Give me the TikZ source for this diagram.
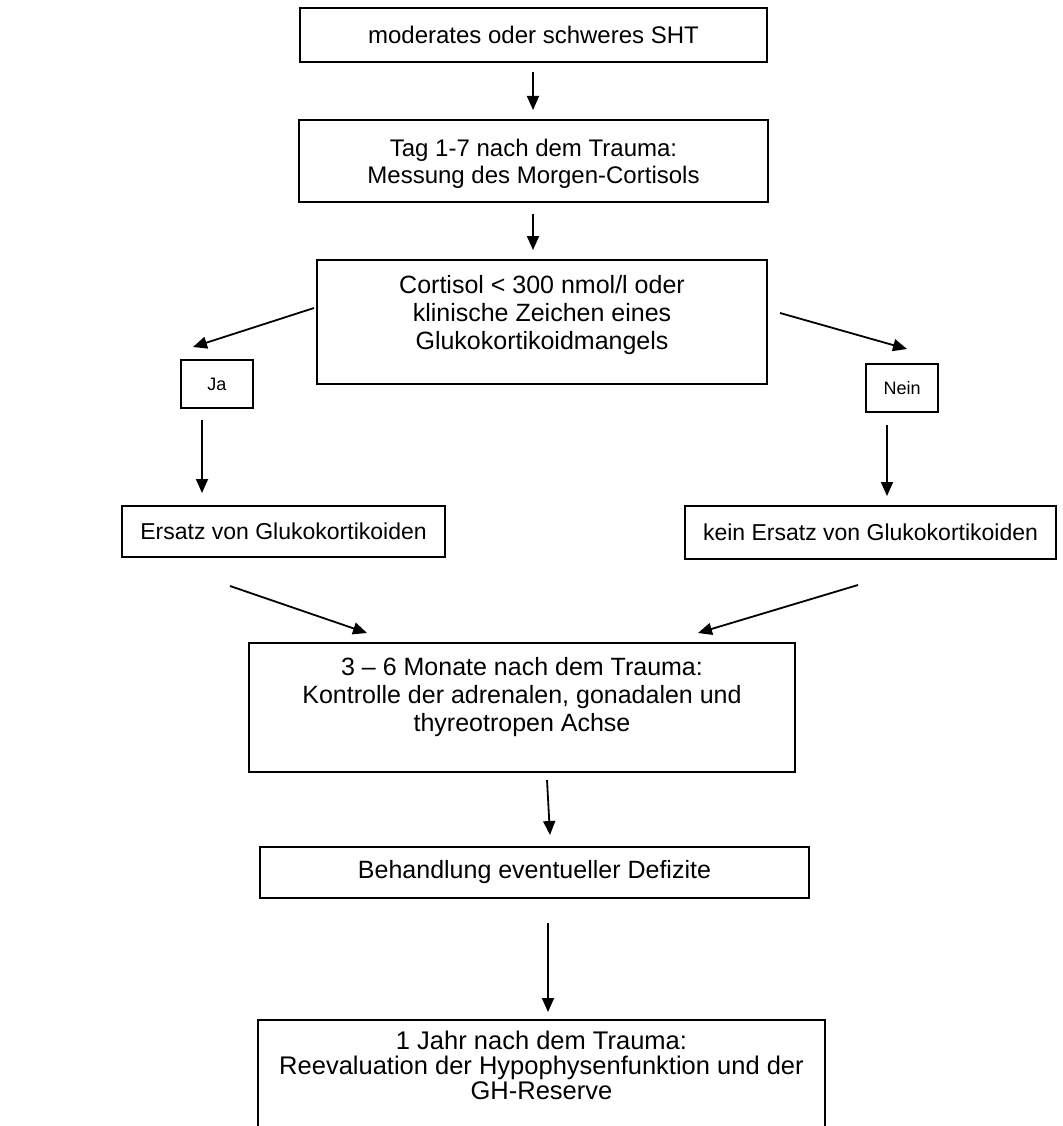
\documentclass[tikz,border=0pt]{standalone}
\usepackage{fontspec}
\setmainfont{Liberation Sans}
\usetikzlibrary{arrows.meta}
\begin{document}
\begin{tikzpicture}[x=1pt,y=-1pt,
  box/.style={draw=black,line width=1.8pt,rectangle,inner sep=0pt,outer sep=0pt,align=center},
  fa/.style={font=\fontsize{24}{27}\selectfont},
  fb/.style={font=\fontsize{25}{28}\selectfont},
  fc/.style={font=\fontsize{23}{27}\selectfont},
  fs/.style={font=\fontsize{18}{22}\selectfont},
  arr/.style={line width=1.8pt,-{Triangle[length=14pt,width=12pt]}}]
\useasboundingbox (0,0) rectangle (1062,1126);
\fill[white] (0,0) rectangle (1062,1126);

\node[box,fa,minimum width=467pt,minimum height=54pt] (b1) at (533.5,35) {moderates oder schweres SHT};
\node[box,fa,minimum width=469pt,minimum height=82pt,text depth=0pt] (b2) at (533.5,161) {Tag 1-7 nach dem Trauma:\\Messung des Morgen-Cortisols};
\node[box,fb,minimum width=450pt,minimum height=124pt,text depth=20pt] (b3) at (542,322) {Cortisol < 300 nmol/l oder\\klinische Zeichen eines\\Glukokortikoidmangels};
\node[box,fs,minimum width=72pt,minimum height=48pt] (ja) at (217,384) {Ja};
\node[box,fs,minimum width=72pt,minimum height=48pt] (nein) at (902,388) {Nein};
\node[box,fc,minimum width=323pt,minimum height=51pt] (e1) at (283.5,531.5) {Ersatz von Glukokortikoiden};
\node[box,fc,minimum width=371pt,minimum height=53pt] (e2) at (870.5,532.5) {kein Ersatz von Glukokortikoiden};
\node[box,fb,minimum width=546pt,minimum height=129pt,text depth=26pt] (b4) at (522,707.5) {3 -- 6 Monate nach dem Trauma:\\Kontrolle der adrenalen, gonadalen und\\thyreotropen Achse};
\node[box,fb,minimum width=549pt,minimum height=51pt] (b5) at (534.5,872.5) {Behandlung eventueller Defizite};
\node[box,font=\fontsize{25.5}{25}\selectfont,minimum width=567pt,anchor=north,inner ysep=11pt,text depth=120pt] (b6) at (541.5,1020) {1 Jahr nach dem Trauma:\\Reevaluation der Hypophysenfunktion und der\\GH-Reserve};

\coordinate (a1s) at (533,72);  \coordinate (a1e) at (533,110);
\coordinate (a2s) at (533,214); \coordinate (a2e) at (533,250);
\coordinate (aLs) at (314,308); \coordinate (aLe) at (193,347);
\coordinate (aRs) at (780,313); \coordinate (aRe) at (907,349);
\coordinate (dLs) at (202,420); \coordinate (dLe) at (202,493);
\coordinate (dRs) at (887,425); \coordinate (dRe) at (887,496);
\coordinate (gLs) at (230,586); \coordinate (gLe) at (367,633);
\coordinate (gRs) at (858,585); \coordinate (gRe) at (698,633);
\coordinate (a5s) at (547,780); \coordinate (a5e) at (550,835);
\coordinate (a6s) at (548,923); \coordinate (a6e) at (548,1012);

\draw[arr] (a1s) -- (a1e);
\draw[arr] (a2s) -- (a2e);
\draw[arr] (aLs) -- (aLe);
\draw[arr] (aRs) -- (aRe);
\draw[arr] (dLs) -- (dLe);
\draw[arr] (dRs) -- (dRe);
\draw[arr] (gLs) -- (gLe);
\draw[arr] (gRs) -- (gRe);
\draw[arr] (a5s) -- (a5e);
\draw[arr] (a6s) -- (a6e);
\end{tikzpicture}
\end{document}
